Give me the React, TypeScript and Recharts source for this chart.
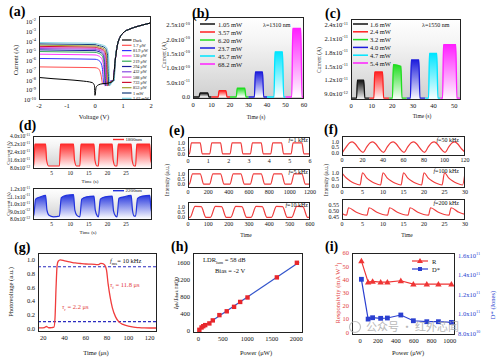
import React from "react";
import { LineChart, Line, AreaChart, Area, XAxis, YAxis, ReferenceLine } from "recharts";

const FONT = "'Liberation Serif','Times New Roman',Times,serif";
const M = 4;

// ---------------- (a) I-V curves ----------------
const aNames = ["Dark", "1.7 μW", "81.9 μW", "130 μW", "219 μW", "294 μW", "432 μW", "588 μW", "733 μW", "853 μW", "1 mW", "1.62 mW"];
const aColors = ["#000000", "#ff4d4d", "#3333ff", "#ff33ff", "#33aa55", "#1a1a99", "#8a4ae0", "#d94fd0", "#cc1133", "#a0a030", "#123c7a", "#7fd3e0"];
const aV = [
  [-2, -1.5, -1, -0.5, -0.1, -0.02, 0, 0.04, 0.12, 0.25, 0.4, 0.55, 0.65],
  [-2, -1, 0, 0.1, 0.17, 0.22, 0.27, 0.35, 0.5, 0.65],
  [-2, -1, 0, 0.1, 0.2, 0.26, 0.32, 0.4, 0.65],
  [-2, -1, 0, 0.1, 0.22, 0.3, 0.35, 0.42, 0.65],
  [-2, -1, 0, 0.1, 0.24, 0.32, 0.37, 0.44, 0.65],
  [-2, -1, 0, 0.1, 0.26, 0.34, 0.39, 0.46, 0.65],
  [-2, -1, 0, 0.1, 0.28, 0.36, 0.41, 0.48, 0.66],
  [-2, -1, 0, 0.1, 0.3, 0.38, 0.43, 0.5, 0.66],
  [-2, -1, 0, 0.1, 0.32, 0.4, 0.45, 0.52, 0.67],
  [-2, -1, 0, 0.1, 0.34, 0.42, 0.47, 0.54, 0.67],
  [-2, -1, 0, 0.1, 0.36, 0.45, 0.5, 0.57, 0.68],
  [-2, -1, 0, 0.1, 0.38, 0.48, 0.53, 0.6, 0.69],
];
const aI = [
  [2e-8, 1.5e-8, 1.2e-8, 9e-9, 6e-9, 3e-9, 3e-10, 2e-9, 3.5e-9, 4.5e-9, 5e-9, 6e-9, 1e-8],
  [2.4e-7, 2.2e-7, 2e-7, 1.7e-7, 1e-7, 3e-8, 5e-9, 6e-9, 7e-9, 1e-8],
  [1.75e-6, 1.6e-6, 1.45e-6, 1.25e-6, 7e-7, 2e-7, 4e-9, 7e-9, 1e-8],
  [4.8e-6, 4.4e-6, 4e-6, 3.4e-6, 2e-6, 4e-7, 3e-9, 6e-9, 1e-8],
  [8.9e-6, 8.1e-6, 7.4e-6, 6.3e-6, 3.7e-6, 7e-7, 3e-9, 6e-9, 1e-8],
  [1.32e-5, 1.2e-5, 1.1e-5, 9.4e-6, 5.5e-6, 1e-6, 3e-9, 6e-9, 1e-8],
  [1.8e-5, 1.65e-5, 1.5e-5, 1.3e-5, 7.5e-6, 1.4e-6, 3e-9, 6e-9, 1e-8],
  [2.3e-5, 2.1e-5, 1.9e-5, 1.6e-5, 9.5e-6, 1.8e-6, 3e-9, 6e-9, 1e-8],
  [3e-5, 2.75e-5, 2.5e-5, 2.1e-5, 1.2e-5, 2.5e-6, 3e-9, 6e-9, 1e-8],
  [4e-5, 3.6e-5, 3.3e-5, 2.8e-5, 1.6e-5, 3e-6, 3e-9, 6e-9, 1e-8],
  [5.4e-5, 5e-5, 4.5e-5, 3.8e-5, 2.2e-5, 4e-6, 3e-9, 6e-9, 1e-8],
  [7.4e-5, 6.8e-5, 6.2e-5, 5.3e-5, 3e-5, 5e-6, 3e-9, 6e-9, 1e-8],
];
const aFwdV = [0.72, 0.8, 0.9, 1.0, 1.25, 1.5, 1.75, 2.0];
const aFwdI = [1e-6, 4e-5, 2.8e-4, 7e-4, 1.8e-3, 3.2e-3, 5e-3, 7.5e-3];
const aXTicks = [-2, -1, 0, 1, 2];
const aYTicks = [1e-10, 1e-9, 1e-8, 1e-7, 1e-6, 1e-5, 1e-4, 1e-3, 1e-2];
const aYLabels = [["10", "-10"], ["10", "-9"], ["10", "-8"], ["10", "-7"], ["10", "-6"], ["10", "-5"], ["10", "-4"], ["10", "-3"], ["10", "-2"]];

// ---------------- (b) 1310 nm pulses ----------------
const bNames = ["1.05 mW", "3.57 mW", "6.20 mW", "23.7 mW", "45.7 mW", "68.2 mW"];
const bColors = ["#111111", "#ff2020", "#20dd20", "#1c1cdc", "#00e5ff", "#ff20ff"];
const bTimes = [
  [0, 3.3, 3.8, 8.0, 8.6, 10],
  [10, 13.6, 14.1, 17.8, 18.4, 20],
  [20, 23.4, 23.9, 28.0, 28.6, 30],
  [30, 33.2, 33.7, 37.6, 38.2, 40],
  [40, 43.8, 44.3, 48.4, 49.0, 50],
  [50, 53.4, 53.9, 58.3, 58.9, 60],
];
const bCurrents = [
  [0, 0, 1.4e-11, 1.4e-11, 0, 0],
  [0, 0, 2.2e-11, 2.2e-11, 0, 0],
  [0, 0, 3.1e-11, 3.1e-11, 0, 0],
  [0, 0, 8.7e-11, 8.7e-11, 0, 0],
  [0, 0, 1.57e-10, 1.57e-10, 0, 0],
  [0, 0, 2.38e-10, 2.38e-10, 0, 0],
];
const bXTicks = [0, 10, 20, 30, 40, 50, 60];
const bYTicks = [0, 5e-11, 1e-10, 1.5e-10, 2e-10, 2.5e-10];
const bYLabels = [["0.0", ""], ["5.0x10", "-11"], ["1.0x10", "-10"], ["1.5x10", "-10"], ["2.0x10", "-10"], ["2.5x10", "-10"]];

// ---------------- (c) 1550 nm pulses ----------------
const cNames = ["1.6 mW", "2.4 mW", "3.2 mW", "4.0 mW", "4.7 mW", "5.4 mW"];
const cColors = ["#111111", "#ff2020", "#20dd20", "#1c1cdc", "#00e5ff", "#ff20ff"];
const cTimes = [
  [0, 2.7, 3.1, 6.2, 6.7, 9],
  [9, 11.1, 11.5, 15.3, 15.8, 18.5],
  [18.5, 20.1, 20.5, 24.2, 24.7, 27],
  [27, 28.8, 29.2, 32.9, 33.4, 36],
  [36, 37.6, 38.0, 41.6, 42.1, 43.3],
  [43.3, 44.4, 44.8, 50.8, 51.3, 53.5],
];
const cCurrents = [
  [8.1e-12, 8.1e-12, 1.2e-11, 1.2e-11, 8.1e-12, 8.1e-12],
  [8.1e-12, 8.1e-12, 1.38e-11, 1.38e-11, 8.1e-12, 8.1e-12],
  [8.1e-12, 8.1e-12, 1.54e-11, 1.5e-11, 8.1e-12, 8.1e-12],
  [8.1e-12, 8.1e-12, 1.64e-11, 1.64e-11, 8.1e-12, 8.1e-12],
  [8.1e-12, 8.1e-12, 1.78e-11, 1.78e-11, 8.1e-12, 8.1e-12],
  [8.1e-12, 8.1e-12, 1.97e-11, 1.97e-11, 8.1e-12, 8.1e-12],
];
const cXTicks = [0, 10, 20, 30, 40, 50];
const cYTicks = [9e-12, 1.2e-11, 1.5e-11, 1.8e-11, 2.1e-11, 2.4e-11];
const cYLabels = [["9.0x10", "-12"], ["1.2x10", "-11"], ["1.5x10", "-11"], ["1.8x10", "-11"], ["2.1x10", "-11"], ["2.4x10", "-11"]];

// ---------------- (d) long-wave pulses ----------------
const dNames = ["1800nm", "2200nm"];
const dColors = ["#ff2a2a", "#2233dd"];
const d1T = [0, 0.2, 0.5, 3.4, 3.65, 4.2, 7.1, 7.4, 10.9, 11.15, 11.7, 12.6, 12.9, 16.4, 16.65, 17.2, 17.6, 17.9, 21.3, 21.55, 22.1, 22.6, 22.9, 26.4, 26.65, 27.2, 27.6, 27.9, 31.4, 31.65, 32];
const d1I = [1e-11, 1e-11, 3.2e-11, 3.2e-11, 1.6e-11, 1e-11, 1e-11, 3.2e-11, 3.2e-11, 1.6e-11, 1e-11, 1e-11, 3.2e-11, 3.2e-11, 1.6e-11, 1e-11, 1e-11, 3.2e-11, 3.2e-11, 1.6e-11, 1e-11, 1e-11, 3.2e-11, 3.2e-11, 1.6e-11, 1e-11, 1e-11, 3.2e-11, 3.2e-11, 1.6e-11, 1.2e-11];
const d2T = [0, 0.2, 0.7, 2.0, 3.4, 3.75, 4.3, 5.5, 7.1, 7.6, 8.9, 10.9, 11.25, 11.8, 12.6, 13.1, 14.4, 16.4, 16.75, 17.3, 17.6, 18.1, 19.4, 21.3, 21.65, 22.2, 22.6, 23.1, 24.4, 26.4, 26.75, 27.2, 27.6, 28.1, 29.4, 31.4, 31.7, 32];
const d2I = [8.4e-12, 8.5e-12, 1.07e-11, 1.1e-11, 1.12e-11, 9.2e-12, 8.5e-12, 8.3e-12, 8.4e-12, 1.09e-11, 1.12e-11, 1.13e-11, 9.2e-12, 8.5e-12, 8.3e-12, 1.07e-11, 1.1e-11, 1.11e-11, 9.2e-12, 8.4e-12, 8.3e-12, 1.07e-11, 1.1e-11, 1.11e-11, 9.1e-12, 8.4e-12, 8.3e-12, 1.08e-11, 1.1e-11, 1.12e-11, 9.2e-12, 8.4e-12, 8.4e-12, 1.08e-11, 1.11e-11, 1.12e-11, 9.5e-12, 8.8e-12];
const dXTicks = [5, 10, 15, 20, 25];
const d1YTicks = [8e-12, 1.6e-11, 2.4e-11, 3.2e-11, 4e-11];
const d1YLabels = [["8.0x10", "-12"], ["1.6x10", "-11"], ["2.4x10", "-11"], ["3.2x10", "-11"], ["4.0x10", "-11"]];
const d2YTicks = [8e-12, 9e-12, 1e-11, 1.1e-11, 1.2e-11];
const d2YLabels = [["8.0x10", "-12"], ["9.0x10", "-12"], ["1.0x10", "-11"], ["1.1x10", "-11"], ["1.2x10", "-11"]];

// ---------------- (e) 1 / 5 / 10 kHz ----------------
const eLabels = ["1 kHz", "5 kHz", "10 kHz"];
const e1T = [0, 0.07, 0.17, 0.6, 0.7, 1.07, 1.17, 1.6, 1.7, 2.07, 2.17, 2.6, 2.7, 3.07, 3.17, 3.6, 3.7, 4.07, 4.17, 4.6, 4.7, 5.07, 5.17, 5.6, 5.7, 6];
const e1V = [0, 0, 1, 1, 0, 0, 1, 1, 0, 0, 1, 1, 0, 0, 1, 1, 0, 0, 1, 1, 0, 0, 1, 1, 0, 0];
const e2T = [0, 12, 45, 120, 155, 212, 245, 320, 355, 412, 445, 520, 555, 612, 645, 720, 755, 812, 845, 920, 955, 1012, 1045, 1120, 1155, 1200];
const e2V = [0, 0, 0.98, 0.98, 0, 0, 0.98, 0.98, 0, 0, 0.98, 0.98, 0, 0, 0.98, 0.98, 0, 0, 0.98, 0.98, 0, 0, 0.98, 0.98, 0, 0];
const e3T = [0, 10, 35, 65, 88, 110, 135, 165, 188, 210, 235, 265, 288, 310, 335, 365, 388, 410, 435, 465, 488, 510, 535, 565, 588, 600];
const e3V = [0, 0, 1, 0.97, 0, 0, 1, 0.97, 0, 0, 1, 0.97, 0, 0, 1, 0.97, 0, 0, 1, 0.97, 0, 0, 1, 0.97, 0, 0];
const e1XTicks = [0, 1, 2, 3, 4, 5, 6];
const e2XTicks = [0, 200, 400, 600, 800, 1000, 1200];
const e3XTicks = [0, 100, 200, 300, 400, 500, 600];
const unitTicks = [0, 0.5, 1];

// ---------------- (f) 50 / 100 / 200 kHz ----------------
const fLabels = ["50 kHz", "100 kHz", "200 kHz"];
const f1T = [0.5, 4, 7.5, 10, 13, 16.5, 20.5, 24, 27.5, 30, 33, 36.5, 40.5, 44, 47.5, 50, 53, 56.5, 60.5, 64, 67.5, 70, 73, 76.5, 80.5, 84, 87.5, 90, 93, 96.5, 100.5, 104, 107.5, 110, 113, 116.5, 120];
const f1V = [0, 0.5, 0.92, 1, 0.8, 0.35, 0, 0.5, 0.92, 1, 0.8, 0.35, 0, 0.5, 0.92, 1, 0.8, 0.35, 0, 0.5, 0.92, 1, 0.8, 0.35, 0, 0.5, 0.92, 1, 0.8, 0.35, 0, 0.5, 0.92, 1, 0.8, 0.35, 0.02];
const f2T = [0, 1, 2, 3, 4.4, 5, 6, 7, 8, 9.4, 10, 11, 12, 13, 14.4, 15, 16, 17, 18, 19.4, 20, 21, 22, 23, 24.4, 25, 26, 27, 28, 29.4, 30];
const f2V = [0.95, 0.6, 0.36, 0.19, 0.06, 0.98, 0.6, 0.36, 0.19, 0.06, 0.98, 0.6, 0.36, 0.19, 0.06, 0.98, 0.6, 0.36, 0.19, 0.06, 0.98, 0.6, 0.36, 0.19, 0.06, 0.98, 0.6, 0.36, 0.19, 0.06, 0.98];
const f3T = [0, 1.1, 1.6, 3.5, 6.1, 6.6, 8.5, 11.1, 11.6, 13.5, 16.1, 16.6, 18.5, 21.1, 21.6, 23.5, 26.1, 26.6, 28.5, 30];
const f3V = [0.48, 0.467, 0.526, 0.49, 0.467, 0.526, 0.49, 0.467, 0.526, 0.49, 0.467, 0.526, 0.49, 0.467, 0.526, 0.49, 0.467, 0.526, 0.49, 0.474];
const f1XTicks = [0, 20, 40, 60, 80, 100, 120];
const f2XTicks = [0, 5, 10, 15, 20, 25, 30];
const f3YTicks = [0.45, 0.5, 0.55];

// ---------------- (g) rise / fall ----------------
const gT = [15, 18, 21, 23, 25, 28, 30, 31, 32, 33, 34, 36, 40, 45, 50, 55, 60, 65, 70, 72, 74, 76, 78, 79.5, 81, 83, 85, 88, 91, 95, 100, 105, 110, 115, 120, 127];
const gV = [0.01, 0.01, 0.015, 0.03, 0.012, 0.015, 0.02, 0.15, 0.6, 0.92, 0.98, 1.0, 0.985, 0.97, 0.955, 0.947, 0.94, 0.937, 0.932, 0.93, 0.948, 0.945, 0.92, 0.85, 0.65, 0.45, 0.3, 0.17, 0.1, 0.06, 0.035, 0.02, 0.014, 0.01, 0.008, 0.008];
const gLevels = [0.9, 0.1];
const gXTicks = [20, 40, 60, 80, 100, 120];
const gYTicks = [0, 0.2, 0.4, 0.6, 0.8, 1.0];

// ---------------- (h) linearity ----------------
const hP = [20, 65, 100, 140, 225, 295, 430, 580, 730, 855, 1005, 1605, 2015];
const hR = [15, 70, 100, 125, 165, 236, 360, 450, 555, 670, 775, 1247, 1590];
const hFitP = [0, 2060];
const hFitR = [10, 1600];
const hXTicks = [0, 500, 1000, 1500, 2000];
const hYTicks = [0, 400, 800, 1200, 1600];

// ---------------- (i) R and D* ----------------
const iP = [15, 90, 140, 230, 305, 455, 595, 745, 875, 1020];
const iR = [54, 38, 38.5, 38, 38, 39, 36.5, 36.5, 36.5, 36.5];
const iD = [1.357e11, 0.947e11, 0.961e11, 0.955e11, 0.958e11, 0.989e11, 0.93e11, 0.92e11, 0.92e11, 0.913e11];
const iXTicks = [0, 200, 400, 600, 800, 1000];
const iLTicks = [0, 10, 20, 30, 40, 50, 60];
const iRTicks = [8e10, 1e11, 1.2e11, 1.4e11, 1.6e11];
const iRLabels = [["8.0x10", "10"], ["1.0x10", "11"], ["1.2x10", "11"], ["1.4x10", "11"], ["1.6x10", "11"]];

// ---------------- layout ----------------
const B: Record<string, number[]> = {
  a: [39, 16, 112, 84],
  b: [193, 17, 111, 82],
  c: [351, 19, 110, 81],
  d1: [33, 136, 119, 33],
  d2: [33, 188, 119, 32],
  e1: [188, 137, 122, 20],
  e2: [188, 169, 122, 19],
  e3: [188, 202, 122, 18],
  f1: [342, 136, 123, 20],
  f2: [342, 167, 123, 21],
  f3: [342, 199, 123, 21],
  g: [38, 253, 119, 79],
  h: [193, 253, 110, 80],
  i: [352, 253, 103, 82],
};
const GRAY_BG = "linear-gradient(to bottom, #ffffff 0%, #f4f4f4 30%, #cfcfcf 100%)";

const toPts = (xs: number[], ys: number[]) => xs.map((x, i) => ({ x, y: ys[i] }));

function Panel({ box, yw, xh, rw = 0, mr = 0, bg, children }: any) {
  const [x, y, w, h] = box;
  const W = w + yw + rw + 2 * M + mr;
  const H = h + xh + 2 * M;
  return (
    <>
      {bg ? <div style={{ position: "absolute", left: x, top: y, width: w, height: h, background: bg, zIndex: 0 }} /> : null}
      <div style={{ position: "absolute", left: x - yw - M, top: y - M, width: W, height: H, zIndex: 1 }}>
        {React.cloneElement(children, { width: W, height: H, margin: { top: M, right: M + mr, bottom: M, left: M } })}
      </div>
      <div style={{ position: "absolute", left: x, top: y, width: w, height: h, border: "1px solid #222", boxSizing: "border-box", zIndex: 2, pointerEvents: "none" }} />
    </>
  );
}

const sciTick = (tv: number[], tl: string[][], fs: number, col = "#111", anchor = "end") => (p: any) => {
  const v = p.payload.value;
  const i = tv.findIndex((t) => Math.abs(t - v) <= Math.abs(t) * 1e-6 + 1e-30);
  const [m, e] = i >= 0 ? tl[i] : [String(v), ""];
  return (
    <text x={p.x} y={p.y} dy={fs * 0.35} textAnchor={anchor} fontSize={fs} fontFamily={FONT} fill={col}>
      {m}
      {e ? <tspan dy={-fs * 0.42} fontSize={fs * 0.68}>{e}</tspan> : null}
    </text>
  );
};

const tk = (fs: number, col = "#111") => ({ fontSize: fs, fill: col, fontFamily: FONT });

function xAx(domain: number[], ticks: number[], fs = 6.5) {
  return (
    <XAxis type="number" dataKey="x" domain={domain} ticks={ticks} interval={0} allowDataOverflow axisLine={false} tickLine={false} tickSize={2} tickMargin={1} height={12} tick={tk(fs)} />
  );
}

function yAx(domain: number[], ticks: number[], width: number, tick: any, extra: any = {}) {
  return (
    <YAxis type="number" domain={domain} ticks={ticks} interval={0} allowDataOverflow axisLine={false} tickLine={false} tickSize={2} tickMargin={1} width={width} tick={tick} {...extra} />
  );
}

function gradDefs(prefix: string, colors: string[]) {
  return (
    <defs>
      {colors.map((c, i) => (
        <linearGradient key={i} id={`${prefix}${i}`} x1="0" y1="0" x2="0" y2="1">
          <stop offset="0" stopColor={c} stopOpacity={1} />
          <stop offset="1" stopColor="#ffffff" stopOpacity={1} />
        </linearGradient>
      ))}
    </defs>
  );
}

const RED = "#f03c3c";
const fmt1 = (v: number) => v.toFixed(1);
const fmt2 = (v: number) => v.toFixed(2);

function Sub({ x, y, main, sub, rest, fs = 7, fill = "#111", italicMain = false, anchor = "start" }: any) {
  return (
    <text x={x} y={y} fontSize={fs} fontFamily={FONT} fill={fill} textAnchor={anchor}>
      <tspan fontStyle={italicMain ? "italic" : "normal"}>{main}</tspan>
      <tspan dy={fs * 0.3} fontSize={fs * 0.7}>{sub}</tspan>
      <tspan dy={-fs * 0.3}>{rest}</tspan>
    </text>
  );
}

function RotText({ cx, cy, children, fs = 7, fill = "#111" }: any) {
  return (
    <text x={cx} y={cy} transform={`rotate(-90 ${cx} ${cy})`} textAnchor="middle" dominantBaseline="central" fontSize={fs} fontFamily={FONT} fill={fill}>
      {children}
    </text>
  );
}

function CText({ x, y, children, fs = 7, fill = "#111", anchor = "middle", style }: any) {
  return (
    <text x={x} y={y} textAnchor={anchor} dominantBaseline="central" fontSize={fs} fontFamily={FONT} fill={fill} style={style}>
      {children}
    </text>
  );
}

function Overlay() {
  const letters = [
    ["(a)", 9, 15.5], ["(b)", 192, 18], ["(c)", 325, 18], ["(d)", 19, 130], ["(e)", 169, 135],
    ["(f)", 324, 134], ["(g)", 14, 252], ["(h)", 171, 251], ["(i)", 325, 251],
  ];
  return (
    <svg width={500} height={359} style={{ position: "absolute", left: 0, top: 0, zIndex: 3, pointerEvents: "none" }}>
      {letters.map(([t, x, y]: any) => (
        <text key={t} x={x} y={y} fontSize={14} fontWeight="bold" fontFamily={FONT} fill="#000">{t}</text>
      ))}
      {/* axis titles */}
      <CText x={94} y={116} fs={6.5}>Voltage (V)</CText>
      <RotText cx={15.5} cy={60} fs={6.5}>Current (A)</RotText>
      <CText x={256} y={117} fs={5.5}>Time (s)</CText>
      <RotText cx={164} cy={55} fs={5.5}>Current (A)</RotText>
      <CText x={422} y={116} fs={5.5}>Time (s)</CText>
      <RotText cx={319} cy={60} fs={5.5}>Current (A)</RotText>
      <CText x={90} y={181} fs={5}>Time (s)</CText>
      <RotText cx={8} cy={153} fs={5}>Current (A)</RotText>
      <CText x={88} y={232} fs={5}>Time (s)</CText>
      <RotText cx={8} cy={204} fs={5}>Current (A)</RotText>
      <RotText cx={167} cy={180} fs={5.5}>Intensity (a.u.)</RotText>
      <CText x={246} y={235} fs={5.5}>Time</CText>
      <RotText cx={326} cy={180} fs={5.5}>Intensity (a.u.)</RotText>
      <CText x={407} y={235} fs={5.5}>Time</CText>
      <CText x={96} y={352} fs={6.5}>Time (μs)</CText>
      <RotText cx={10.5} cy={292} fs={6.5}>Photovoltage (a.u.)</RotText>
      <CText x={256} y={352} fs={6.5}>Power (μW)</CText>
      <text x={174.5} y={293} transform="rotate(-90 174.5 293)" textAnchor="middle" dominantBaseline="central" fontSize={6.5} fontFamily={FONT} fill="#111">
        <tspan fontStyle="italic">I</tspan>
        <tspan dy={1.8} fontSize={4.6}>ph</tspan>
        <tspan dy={-1.8}>/</tspan>
        <tspan fontStyle="italic">I</tspan>
        <tspan dy={1.8} fontSize={4.6}>dark</tspan>
        <tspan dy={-1.8}> ratio</tspan>
      </text>
      <CText x={408} y={352} fs={6.5}>Power (μW)</CText>
      <text x={337.5} y={293} transform="rotate(-90 337.5 293)" textAnchor="middle" dominantBaseline="central" fontSize={6.5} fontFamily={FONT} fill="#e23a3a">
        Responsivity (mA W<tspan dy={-2} fontSize={4.6}>-1</tspan><tspan dy={2}>)</tspan>
      </text>
      <RotText cx={492.5} cy={305} fs={6.5} fill="#2a3fd0">D* (Jones)</RotText>

      {/* (a) legend */}
      {aNames.map((n, i) => (
        <g key={n}>
          <line x1={122} x2={131.5} y1={40 + i * 5.3} y2={40 + i * 5.3} stroke={aColors[i]} strokeWidth={1.2} />
          <text x={133} y={40 + i * 5.3} dominantBaseline="central" fontSize={4.3} fontFamily={FONT} fill="#111">{n}</text>
        </g>
      ))}
      {/* (b) legend */}
      {bNames.map((n, i) => (
        <g key={n}>
          <line x1={200} x2={215} y1={24 + i * 8} y2={24 + i * 8} stroke={bColors[i]} strokeWidth={1.5} />
          <text x={218} y={24 + i * 8} dominantBaseline="central" fontSize={6.5} fontFamily={FONT} fill="#111">{n}</text>
        </g>
      ))}
      <CText x={263} y={24.5} fs={6} anchor="start">λ=1310 nm</CText>
      {/* (c) legend */}
      {cNames.map((n, i) => (
        <g key={n}>
          <line x1={353} x2={368} y1={24 + i * 7.8} y2={24 + i * 7.8} stroke={cColors[i]} strokeWidth={1.5} />
          <text x={370} y={24 + i * 7.8} dominantBaseline="central" fontSize={6.5} fontFamily={FONT} fill="#111">{n}</text>
        </g>
      ))}
      <CText x={422} y={24.5} fs={6} anchor="start">λ=1550 nm</CText>
      {/* (d) legends */}
      {dNames.map((n, i) => (
        <g key={n}>
          <line x1={113} x2={124} y1={[139.5, 190.7][i]} y2={[139.5, 190.7][i]} stroke={dColors[i]} strokeWidth={1.4} />
          <text x={125.5} y={[139.5, 190.7][i]} dominantBaseline="central" fontSize={5} fontFamily={FONT} fill="#111">{n}</text>
        </g>
      ))}
      {/* (e), (f) frequency labels */}
      {eLabels.map((l, i) => (
        <text key={l} x={308} y={[142, 174, 206.5][i]} textAnchor="end" fontSize={6} fontFamily={FONT} fill="#111">
          <tspan fontStyle="italic">f</tspan>=<tspan>{l}</tspan>
        </text>
      ))}
      {fLabels.map((l, i) => (
        <text key={l} x={459} y={[141.5, 173, 205][i]} textAnchor="end" fontSize={6} fontFamily={FONT} fill="#111">
          <tspan fontStyle="italic">f</tspan>=<tspan>{l}</tspan>
        </text>
      ))}
      {/* (g) annotations */}
      <Sub x={110} y={263} main="f" sub="ms" rest="= 10 kHz" fs={6.5} italicMain />
      <Sub x={62} y={309} main="τ" sub="r" rest=" = 2.2 μs" fs={6.5} fill="#e23a3a" italicMain />
      <Sub x={110} y={287} main="τ" sub="f" rest=" = 11.8 μs" fs={6.5} fill="#e23a3a" italicMain />
      {/* (h) annotations */}
      <Sub x={203} y={262} main="LDR" sub="lum" rest=" = 58 dB" fs={6.5} />
      <CText x={215} y={270} fs={6.5} anchor="start">Bias = -2 V</CText>
      {/* (i) legend */}
      <line x1={412} x2={428} y1={261} y2={261} stroke="#ef3535" strokeWidth={1.2} />
      <polygon points="420,258 417,263 423,263" fill="#ef3535" />
      <CText x={432} y={261} fs={6.5} anchor="start">R</CText>
      <line x1={412} x2={428} y1={269} y2={269} stroke="#2a3fd0" strokeWidth={1.2} />
      <rect x={418} y={267} width={4} height={4} fill="#2a3fd0" />
      <CText x={432} y={269} fs={6.5} anchor="start">D*</CText>
      {/* watermark */}
      <circle cx={355} cy={327} r={5.5} fill="none" stroke="#b0b0b0" strokeWidth={1.2} opacity={0.8} />
      <text x={366} y={331} fontSize={11} fontFamily="'Noto Sans CJK SC',sans-serif" fill="#a8a8a8" opacity={0.8}>公众号 · 红外芯闻</text>
    </svg>
  );
}

const aOrder = [1, 2, 3, 4, 5, 6, 7, 8, 9, 10, 11, 0];

export default function App() {
  return (
    <div style={{ position: "fixed", left: 0, top: 0, width: 500, height: 359, background: "#fff", overflow: "hidden", fontFamily: FONT }}>
      {/* (a) */}
      <Panel box={B.a} yw={22} xh={12}>
        <LineChart>
          {xAx([-2, 2], aXTicks)}
          {yAx([1e-10, 0.038], aYTicks, 22, sciTick(aYTicks, aYLabels, 6.5), { scale: "log" })}
          {aOrder.map((i) => (
            <Line key={i} data={toPts(aV[i].concat(aFwdV), aI[i].concat(aFwdI))} dataKey="y" type="monotone" stroke={aColors[i]} strokeWidth={1} dot={false} activeDot={false} isAnimationActive={false} />
          ))}
        </LineChart>
      </Panel>

      {/* (b) */}
      <Panel box={B.b} yw={34} xh={12} bg={GRAY_BG}>
        <AreaChart>
          {gradDefs("gb", bColors)}
          {xAx([0, 60], bXTicks)}
          {yAx([-7e-12, 2.78e-10], bYTicks, 34, sciTick(bYTicks, bYLabels, 6.5))}
          {bTimes.map((t, i) => (
            <Area key={i} data={toPts(t, bCurrents[i])} dataKey="y" type="monotone" stroke={bColors[i]} strokeWidth={1.3} fill={`url(#gb${i})`} fillOpacity={1} dot={false} activeDot={false} isAnimationActive={false} />
          ))}
        </AreaChart>
      </Panel>

      {/* (c) */}
      <Panel box={B.c} yw={34} xh={12} mr={4} bg={GRAY_BG}>
        <AreaChart>
          {gradDefs("gc", cColors)}
          {xAx([0, 53.3], cXTicks)}
          {yAx([7.7e-12, 2.53e-11], cYTicks, 34, sciTick(cYTicks, cYLabels, 6.5))}
          {cTimes.map((t, i) => (
            <Area key={i} data={toPts(t, cCurrents[i])} dataKey="y" type="monotone" stroke={cColors[i]} strokeWidth={1.3} fill={`url(#gc${i})`} fillOpacity={1} dot={false} activeDot={false} isAnimationActive={false} />
          ))}
        </AreaChart>
      </Panel>

      {/* (d) */}
      <Panel box={B.d1} yw={30} xh={11} bg={GRAY_BG}>
        <AreaChart>
          {gradDefs("gd1", [dColors[0]])}
          {xAx([0, 32], dXTicks, 5.5)}
          {yAx([8e-12, 4e-11], d1YTicks, 30, sciTick(d1YTicks, d1YLabels, 5.5))}
          <Area data={toPts(d1T, d1I)} dataKey="y" type="monotone" stroke={dColors[0]} strokeWidth={1.2} fill="url(#gd10)" fillOpacity={1} dot={false} activeDot={false} isAnimationActive={false} />
        </AreaChart>
      </Panel>
      <Panel box={B.d2} yw={30} xh={11} bg={GRAY_BG}>
        <AreaChart>
          {gradDefs("gd2", [dColors[1]])}
          {xAx([0, 32], dXTicks, 5.5)}
          {yAx([8e-12, 1.22e-11], d2YTicks, 30, sciTick(d2YTicks, d2YLabels, 5.5))}
          <Area data={toPts(d2T, d2I)} dataKey="y" type="monotone" stroke={dColors[1]} strokeWidth={1.2} fill="url(#gd20)" fillOpacity={1} dot={false} activeDot={false} isAnimationActive={false} />
        </AreaChart>
      </Panel>

      {/* (e) */}
      {[
        [B.e1, [0, 6], e1XTicks, e1T, e1V, [-0.2, 1.55]],
        [B.e2, [0, 1200], e2XTicks, e2T, e2V, [-0.27, 1.45]],
        [B.e3, [0, 600], e3XTicks, e3T, e3V, [-0.15, 1.4]],
      ].map(([box, xd, xt, ts, vs, yd]: any, k) => (
        <Panel key={`e${k}`} box={box} yw={14} xh={11} mr={8}>
          <LineChart>
            {xAx(xd, xt, 6)}
            {yAx(yd, unitTicks, 14, tk(6), { tickFormatter: fmt1 })}
            <Line data={toPts(ts, vs)} dataKey="y" type="monotone" stroke={RED} strokeWidth={1.2} dot={false} activeDot={false} isAnimationActive={false} />
          </LineChart>
        </Panel>
      ))}

      {/* (f) */}
      {[
        [B.f1, [0, 120], f1XTicks, f1T, f1V, [-0.25, 1.57], unitTicks, fmt1],
        [B.f2, [0, 30], f2XTicks, f2T, f2V, [-0.09, 1.41], unitTicks, fmt1],
        [B.f3, [0, 30], f2XTicks, f3T, f3V, [0.437, 0.595], f3YTicks, fmt2],
      ].map(([box, xd, xt, ts, vs, yd, yt, ff]: any, k) => (
        <Panel key={`f${k}`} box={box} yw={18} xh={11} mr={8}>
          <LineChart>
            {xAx(xd, xt, 6)}
            {yAx(yd, yt, 18, tk(6), { tickFormatter: ff })}
            <Line data={toPts(ts, vs)} dataKey="y" type="monotone" stroke={RED} strokeWidth={1.2} dot={false} activeDot={false} isAnimationActive={false} />
          </LineChart>
        </Panel>
      ))}

      {/* (g) */}
      <Panel box={B.g} yw={18} xh={12}>
        <LineChart>
          {xAx([15, 127], gXTicks)}
          {yAx([-0.05, 1.1], gYTicks, 18, tk(6.5), { tickFormatter: fmt1 })}
          {gLevels.map((l) => (
            <ReferenceLine key={l} y={l} stroke="#2b2bbf" strokeWidth={1.2} strokeDasharray="3 2" />
          ))}
          <Line data={toPts(gT, gV)} dataKey="y" type="monotone" stroke={RED} strokeWidth={1.3} dot={false} activeDot={false} isAnimationActive={false} />
        </LineChart>
      </Panel>

      {/* (h) */}
      <Panel box={B.h} yw={22} xh={12} mr={6}>
        <LineChart>
          {xAx([-110, 2140], hXTicks)}
          {yAx([-60, 1820], hYTicks, 22, tk(6.5))}
          <Line data={toPts(hFitP, hFitR)} dataKey="y" type="linear" stroke="#3355cc" strokeWidth={1.2} dot={false} activeDot={false} isAnimationActive={false} />
          <Line
            data={toPts(hP, hR)}
            dataKey="y"
            stroke="none"
            dot={(p: any) => <rect key={`h${p.index}`} x={p.cx - 2.2} y={p.cy - 2.2} width={4.4} height={4.4} fill="#e8262b" />}
            activeDot={false}
            isAnimationActive={false}
          />
        </LineChart>
      </Panel>

      {/* (i) */}
      <Panel box={B.i} yw={14} xh={12} rw={34}>
        <LineChart>
          {xAx([-90, 1060], iXTicks)}
          {yAx([-2, 60], iLTicks, 14, tk(6.5, "#e23a3a"), { yAxisId: "L" })}
          {yAx([7.83e10, 1.628e11], iRTicks, 34, sciTick(iRTicks, iRLabels, 6.5, "#2a3fd0", "start"), { yAxisId: "R", orientation: "right" })}
          <Line
            yAxisId="L"
            data={toPts(iP, iR)}
            dataKey="y"
            type="linear"
            stroke="#ef3535"
            strokeWidth={1.2}
            dot={(p: any) => <polygon key={`r${p.index}`} points={`${p.cx},${p.cy - 3.2} ${p.cx - 3.2},${p.cy + 2.4} ${p.cx + 3.2},${p.cy + 2.4}`} fill="#ef3535" />}
            activeDot={false}
            isAnimationActive={false}
          />
          <Line
            yAxisId="R"
            data={toPts(iP, iD)}
            dataKey="y"
            type="linear"
            stroke="#2a3fd0"
            strokeWidth={1.2}
            dot={(p: any) => <rect key={`d${p.index}`} x={p.cx - 2.4} y={p.cy - 2.4} width={4.8} height={4.8} fill="#2a3fd0" />}
            activeDot={false}
            isAnimationActive={false}
          />
        </LineChart>
      </Panel>

      <Overlay />
    </div>
  );
}
